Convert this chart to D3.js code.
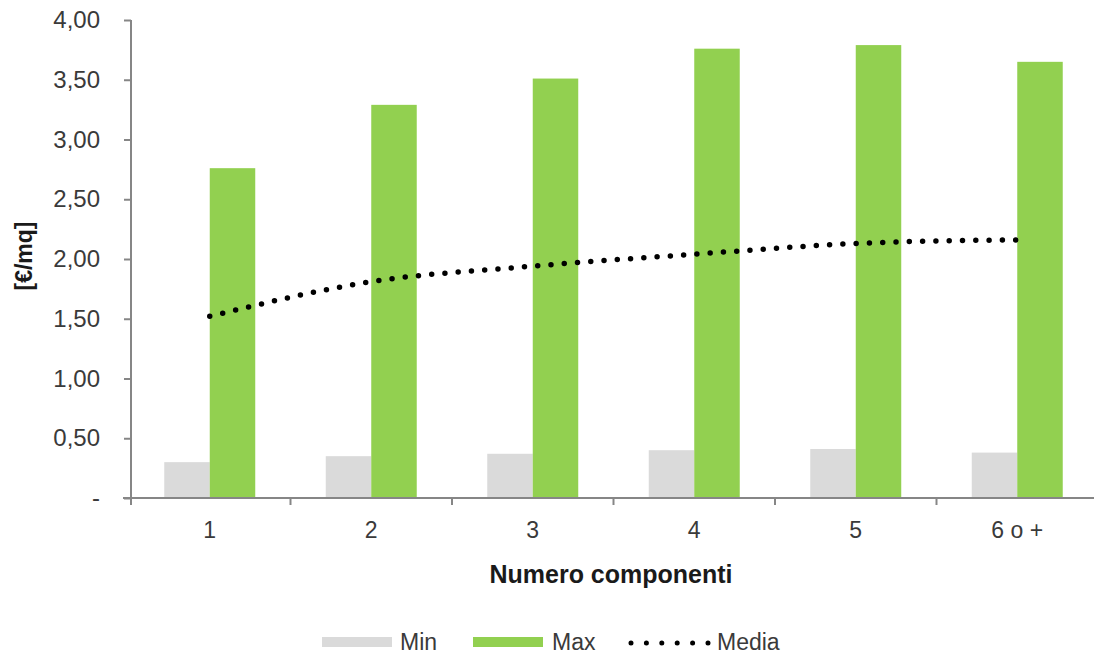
<!DOCTYPE html>
<html>
<head>
<meta charset="utf-8">
<script src="https://cdn.jsdelivr.net/npm/d3@7"></script>
<style>
  html, body { margin: 0; padding: 0; background: #fff; }
  svg { display: block; font-family: "Liberation Sans", Arial, sans-serif; }
</style>
</head>
<body>
<svg id="chart" width="1094" height="657"></svg>
<script>
const categories = ["1", "2", "3", "4", "5", "6 o +"];
const minValues = [0.30, 0.35, 0.37, 0.40, 0.41, 0.38];
const maxValues = [2.76, 3.29, 3.51, 3.76, 3.79, 3.65];
const mediaValues = [1.52, 1.81, 1.94, 2.04, 2.13, 2.16];
const yTickValues = [0, 0.5, 1, 1.5, 2, 2.5, 3, 3.5, 4];
const seriesNames = ["Min", "Max", "Media"];
const barSeries = [
  { name: "Min", values: minValues, color: "#dadada" },
  { name: "Max", values: maxValues, color: "#92d050" }
];

const svg = d3.select("#chart");
const axisColor = "#868686";
const textColor = "#3a3a3a";

const x = d3.scaleBand().domain(categories).range([129, 1098]).padding(0);
const x1 = d3.scaleBand().domain(["Min", "Max"]).range([0, x.bandwidth()]).paddingInner(0).paddingOuter(0.775);
const y = d3.scaleLinear().domain([0, 4]).range([498, 20]);
const axisX = 131;

// Bars
barSeries.forEach(s => {
  svg.append("g").selectAll("rect")
    .data(categories.map((c, i) => ({ c, v: s.values[i] })))
    .join("rect")
    .attr("x", d => x(d.c) + x1(s.name))
    .attr("y", d => y(d.v))
    .attr("width", x1.bandwidth())
    .attr("height", d => y(0) - y(d.v))
    .attr("fill", s.color);
});

// Y axis
const yAxis = d3.axisLeft(y)
  .tickValues(yTickValues)
  .tickSize(7)
  .tickPadding(24)
  .tickFormat(d => d === 0 ? "-" : d.toFixed(2).replace(".", ","));
const gy = svg.append("g").attr("transform", `translate(${axisX},0)`).call(yAxis);
gy.select(".domain").remove();
gy.selectAll(".tick line").attr("stroke", axisColor).attr("stroke-width", 2);
gy.selectAll(".tick text").attr("fill", textColor).style("font-size", "24px")
  .attr("font-family", "Liberation Sans, Arial, sans-serif");
svg.append("line")
  .attr("x1", axisX).attr("x2", axisX)
  .attr("y1", y(4)).attr("y2", y(0) + 7)
  .attr("stroke", axisColor).attr("stroke-width", 2);

// X axis
const xAxis = d3.axisBottom(x).tickSize(0).tickPadding(24);
const gx = svg.append("g").attr("transform", `translate(0,${y(0)})`).call(xAxis);
gx.select(".domain").remove();
gx.selectAll(".tick text").attr("fill", textColor).style("font-size", "23px")
  .attr("font-family", "Liberation Sans, Arial, sans-serif");
svg.append("line")
  .attr("x1", axisX - 8).attr("x2", 1094)
  .attr("y1", y(0)).attr("y2", y(0))
  .attr("stroke", axisColor).attr("stroke-width", 2);
svg.append("g").selectAll("line")
  .data(categories.slice(1))
  .join("line")
  .attr("x1", d => x(d)).attr("x2", d => x(d))
  .attr("y1", y(0)).attr("y2", y(0) + 7)
  .attr("stroke", axisColor).attr("stroke-width", 2);

// Media line
const line = d3.line()
  .x((d, i) => x(categories[i]) + x.bandwidth() / 2)
  .y(d => y(d))
  .curve(d3.curveMonotoneX);
svg.append("path")
  .datum(mediaValues)
  .attr("d", line)
  .attr("fill", "none")
  .attr("stroke", "#000")
  .attr("stroke-width", 5.5)
  .attr("stroke-linecap", "round")
  .attr("stroke-dasharray", "0,13.3");

// Axis titles
svg.append("text")
  .attr("x", 611)
  .attr("y", 583)
  .attr("text-anchor", "middle")
  .attr("font-weight", "bold")
  .attr("fill", "#1a1a1a")
  .style("font-size", "25px")
  .text("Numero componenti");

svg.append("text")
  .attr("transform", "translate(32,256) rotate(-90)")
  .attr("text-anchor", "middle")
  .attr("font-weight", "bold")
  .attr("fill", "#1a1a1a")
  .style("font-size", "23px")
  .text("[€/mq]");

// Legend
const legendY = 642;
const legend = svg.append("g");
legend.append("rect").attr("x", 322).attr("y", legendY - 5).attr("width", 70).attr("height", 10).attr("fill", barSeries[0].color);
legend.append("text").attr("x", 400).attr("y", legendY + 8).attr("fill", textColor).style("font-size", "23px").text(seriesNames[0]);
legend.append("rect").attr("x", 473).attr("y", legendY - 5).attr("width", 70).attr("height", 10).attr("fill", barSeries[1].color);
legend.append("text").attr("x", 552).attr("y", legendY + 8).attr("fill", textColor).style("font-size", "23px").text(seriesNames[1]);
legend.append("line").attr("x1", 631).attr("x2", 708).attr("y1", legendY + 1).attr("y2", legendY + 1)
  .attr("stroke", "#000").attr("stroke-width", 5).attr("stroke-linecap", "round").attr("stroke-dasharray", "0,15.4");
legend.append("text").attr("x", 717).attr("y", legendY + 8).attr("fill", textColor).style("font-size", "23px").text(seriesNames[2]);
</script>
</body>
</html>
